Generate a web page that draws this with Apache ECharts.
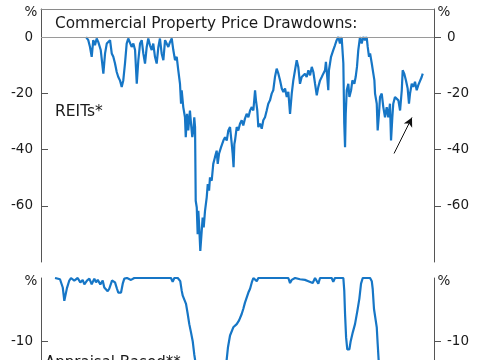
<!DOCTYPE html>
<html><head><meta charset="utf-8">
<script src="https://cdn.jsdelivr.net/npm/echarts@6/dist/echarts.min.js"></script>
<style>html,body{margin:0;padding:0;background:#fff;width:485px;height:360px;overflow:hidden}#c{width:485px;height:480px}</style>
</head><body><div id="c"></div>
<script>
// ---- data (x = decimal year, y = % drawdown) ----
const reitDates = [
2000.44,2000.61,2000.74,2000.87,2000.99,2001.12,2001.25,2001.37,2001.56,2001.76,2001.89,2002.02,2002.14,2002.27,2002.40,2002.52,2002.65,2002.78,2002.90,2003.03,
2003.16,2003.28,2003.41,2003.54,2003.66,2003.79,2003.92,2004.05,2004.18,2004.31,2004.43,2004.56,2004.69,2004.81,2004.94,2005.07,2005.19,2005.32,2005.45,2005.57,
2005.70,2005.83,2005.96,2006.08,2006.21,2006.34,2006.47,2006.60,2006.72,2006.85,2006.98,2007.04,2007.10,2007.23,2007.36,2007.48,2007.61,2007.69,2007.74,2007.86,
2007.99,2008.05,2008.15,2008.24,2008.37,2008.45,2008.55,2008.63,2008.70,2008.76,2008.81,2008.89,2008.96,2009.01,2009.08,2009.16,2009.27,2009.34,2009.42,2009.52,
2009.65,2009.73,2009.83,2009.90,2010.03,2010.15,2010.28,2010.41,2010.49,2010.59,2010.74,2010.92,2011.05,2011.18,2011.30,2011.43,2011.56,2011.63,2011.70,2011.76,
2011.81,2011.94,2012.06,2012.19,2012.32,2012.44,2012.57,2012.70,2012.83,2012.96,2013.09,2013.21,2013.34,2013.41,2013.51,2013.59,2013.72,2013.85,2013.97,2014.10,
2014.23,2014.35,2014.48,2014.61,2014.73,2014.86,2014.99,2015.12,2015.25,2015.38,2015.50,2015.63,2015.76,2015.88,2016.01,2016.14,2016.26,2016.39,2016.52,2016.64,
2016.77,2016.90,2017.02,2017.15,2017.28,2017.41,2017.54,2017.67,2017.79,2017.92,2018.05,2018.17,2018.30,2018.43,2018.55,2018.68,2018.75,2018.85,2018.93,2018.98,
2019.14,2019.31,2019.44,2019.57,2019.70,2019.82,2019.95,2020.08,2020.15,2020.21,2020.26,2020.34,2020.46,2020.54,2020.67,2020.77,2020.92,2021.02,2021.12,2021.22,
2021.35,2021.48,2021.60,2021.73,2021.86,2021.94,2022.04,2022.12,2022.25,2022.37,2022.45,2022.50,2022.63,2022.70,2022.80,2022.88,2023.01,2023.13,2023.26,2023.39,
2023.51,2023.64,2023.72,2023.82,2023.89,2024.02,2024.15,2024.28,2024.41,2024.54,2024.61,2024.73,2024.86,2024.99,2025.09,2025.17,2025.30,2025.42,2025.55,2025.68,
2025.80,2025.93,2026.06,2026.14];
const reitValues = [
0,-1.1,-3.5,-7.0,-1.1,-2.9,-0.5,-1.7,-4.6,-13.0,-5.8,-2.3,-2.3,-1.1,-5.8,-7.0,-9.4,-12.4,-14.2,-15.4,
-17.7,-15.4,-9.4,-2.3,-0.5,-1.1,-3.5,-2.3,-4.6,-16.6,-8.2,-2.3,-1.1,-5.8,-9.4,-3.5,-0.5,-2.9,-4.6,-2.3,
-7.0,-9.4,-3.5,-0.5,-5.8,-8.2,-1.1,-0.5,-3.5,-1.7,-0.5,0,-4.6,-8.2,-7.0,-11.8,-16.6,-23.7,-18.9,-24.9,
-28.5,-35.6,-27.3,-33.2,-26.1,-30.8,-35.6,-33.2,-28.5,-32.0,-58.2,-60.6,-70.1,-61.8,-67.7,-76.1,-68.9,-64.2,-67.7,-61.8,
-57.0,-52.3,-54.6,-49.9,-51.1,-45.1,-42.7,-40.4,-45.1,-41.5,-39.2,-36.8,-35.6,-36.8,-33.2,-32.0,-38.0,-41.5,-46.3,-38.0,
-36.8,-32.0,-33.2,-30.8,-29.6,-31.4,-29.0,-27.3,-28.5,-26.1,-24.9,-26.1,-18.9,-22.5,-26.1,-32.0,-30.8,-32.6,-29.6,-28.5,
-26.1,-23.7,-22.5,-20.1,-18.9,-14.2,-11.2,-13.0,-15.4,-18.3,-19.5,-18.3,-21.3,-19.5,-27.3,-20.1,-15.4,-11.8,-8.2,-10.6,
-16.6,-14.2,-14.8,-13.0,-14.2,-11.8,-13.6,-10.6,-12.4,-16.6,-20.7,-17.7,-15.4,-14.2,-13.0,-11.8,-8.8,-14.2,-18.9,-11.8,
-7.0,-4.6,-2.9,-1.1,0,-2.3,0,-9.4,-30.8,-39.2,-27.3,-18.9,-16.6,-21.3,-18.9,-15.4,-16.6,-14.2,-10.6,-4.6,
0,-2.3,0,-1.1,0,-3.5,-7.0,-5.8,-9.4,-13.0,-15.4,-20.1,-23.7,-33.2,-27.3,-21.3,-20.1,-24.9,-28.5,-24.9,
-28.5,-23.7,-36.8,-28.5,-23.7,-21.3,-21.9,-22.5,-26.1,-18.9,-11.8,-13.0,-15.4,-18.3,-23.7,-20.1,-16.6,-17.7,-15.9,-18.9,
-17.1,-17.7,-14.2,-13.0];

const apprDates = [
1998.07,1998.45,1998.66,1998.78,1998.86,1998.98,1999.16,1999.29,1999.54,1999.80,2000.00,2000.18,2000.31,2000.51,2000.69,2000.87,2001.07,2001.20,2001.33,2001.53,
2001.71,2001.83,2001.96,2002.09,2002.21,2002.34,2002.42,2002.55,2002.65,2002.80,2002.90,2003.11,2003.24,2003.36,2003.57,2003.87,2004.12,2006.92,2007.05,2007.18,
2007.44,2007.63,2007.74,2007.82,2007.94,2008.07,2008.20,2008.32,2008.45,2008.58,2008.70,2008.78,2009.14,2009.52,2009.90,2010.28,2010.66,2011.12,2011.27,2011.43,
2011.68,2011.94,2012.12,2012.32,2012.44,2012.57,2012.70,2012.83,2012.96,2013.09,2013.21,2013.47,2013.59,2015.88,2016.01,2016.14,2016.39,2016.77,2017.15,2017.41,
2017.54,2017.74,2017.92,2018.17,2018.30,2019.19,2019.31,2019.44,2020.08,2020.15,2020.21,2020.29,2020.38,2020.54,2020.64,2020.80,2020.97,2021.15,2021.30,2021.43,
2021.56,2022.12,2022.25,2022.32,2022.42,2022.52,2022.63,2022.70,2022.78,2022.90,2023.10,2023.80,2024.50,2025.20,2025.90];
const apprValues = [
0,-0.2,-1.5,-3.6,-3.4,-1.6,-0.4,0,-0.4,0,-0.7,-0.3,-1.0,-0.4,-0.1,-1.0,-0.1,-0.7,-0.3,-1.0,
-0.4,-1.5,-1.2,-2.1,-1.7,-1.5,-0.4,-0.1,-0.7,-1.7,-2.3,-2.3,-0.9,-0.1,0,-0.3,0,0,-0.6,0,
0,-0.5,-2.0,-2.8,-2.5,-4.1,-5.7,-7.3,-8.6,-10.0,-12.1,-13.2,-18,-23,-26,-25,-21,-14,-11,-9.1,
-7.8,-7.3,-6.7,-5.7,-4.9,-3.9,-3.1,-2.3,-1.7,-0.7,0,-0.5,0,0,-0.8,-0.3,0,-0.2,-0.3,-0.5,
-0.2,-0.8,0,-0.9,0,0,-0.6,0,0,-2.0,-5.7,-9.4,-11.3,-11.3,-10.0,-8.6,-7.3,-5.2,-3.3,-0.9,
0,0,-0.5,-1.7,-4.9,-5.2,-7.8,-10.4,-13.2,-16.5,-19,-21,-22,-21,-20];

const topTicks = [-60, -40, -20, 0];
const bottomTicks = [-10, -20];
const arrowFrom = [2023.95, -41.4];
const arrowTo = [2025.32, -28.6];

const BLUE = '#1676c6';
const FONT = 'DejaVu Sans';
const zip = (xs, ys) => xs.map((x, i) => [x, ys[i]]);

function yAx(grid, pos, min, max, ticks, inside, margin) {
  return {
    type: 'value', gridIndex: grid, position: pos, min: min, max: max, interval: 10,
    splitLine: {show: false},
    axisLine: {show: true, onZero: false, lineStyle: {color: '#555', width: 1}},
    axisTick: {show: true, inside: inside, length: 7, customValues: ticks, lineStyle: {color: '#555'}},
    axisLabel: {show: true, customValues: ticks, margin: margin, color: '#1a1a1a',
      fontFamily: FONT, fontSize: 13.5}
  };
}

const chart = echarts.init(document.getElementById('c'), null, {renderer: 'canvas'});
chart.setOption({
  animation: false,
  backgroundColor: '#fff',
  grid: [
    {left: 41, top: 9, width: 393, height: 253},
    {left: 41, top: 278, width: 393, height: 126.4}
  ],
  xAxis: [
    {type: 'value', gridIndex: 0, min: 1997, max: 2027, position: 'top',
     axisLine: {show: true, onZero: false, lineStyle: {color: '#8a8a8a', width: 1}},
     axisTick: {show: false}, axisLabel: {show: false}, splitLine: {show: false}},
    {type: 'value', gridIndex: 1, min: 1997, max: 2027, show: false}
  ],
  yAxis: [
    yAx(0, 'left', -80, 10, topTicks, true, 8),
    yAx(0, 'right', -80, 10, topTicks, false, 13),
    yAx(1, 'left', -20, 0, bottomTicks, true, 8),
    yAx(1, 'right', -20, 0, bottomTicks, false, 13)
  ],
  series: [
    {type: 'line', xAxisIndex: 0, yAxisIndex: 0, data: zip(reitDates, reitValues),
     showSymbol: false, lineStyle: {color: BLUE, width: 2.2}, z: 3,
     markLine: {silent: true, symbol: ['none', 'none'], label: {show: false}, animation: false,
       data: [
         {yAxis: 0, lineStyle: {color: '#9a9a9a', width: 1, type: 'solid'}},
         [{coord: arrowFrom, symbol: 'none', lineStyle: {color: '#111', width: 1, type: 'solid'}},
          {coord: arrowTo, symbol: 'arrow', symbolSize: [7, 9]}]
       ]}},
    {type: 'line', xAxisIndex: 1, yAxisIndex: 2, data: zip(apprDates, apprValues),
     showSymbol: false, lineStyle: {color: BLUE, width: 2.2}}
  ],
  graphic: [
    {type: 'text', x: 55, y: 24.3, style: {text: 'Commercial Property Price Drawdowns:', fontFamily: FONT, fontSize: 15.3, fill: '#1a1a1a', align: 'left', verticalAlign: 'middle'}},
    {type: 'text', x: 55, y: 111.5, style: {text: 'REITs*', fontFamily: FONT, fontSize: 15.5, fill: '#1a1a1a', align: 'left', verticalAlign: 'middle'}},
    {type: 'text', x: 45, y: 363, style: {text: 'Appraisal Based**', fontFamily: FONT, fontSize: 15, fill: '#1a1a1a', align: 'left', verticalAlign: 'middle'}},
    {type: 'text', x: 31, y: 12.5, style: {text: '%', fontFamily: FONT, fontSize: 13.5, fill: '#1a1a1a', align: 'center', verticalAlign: 'middle'}},
    {type: 'text', x: 444, y: 12.5, style: {text: '%', fontFamily: FONT, fontSize: 13.5, fill: '#1a1a1a', align: 'center', verticalAlign: 'middle'}},
    {type: 'text', x: 31, y: 281, style: {text: '%', fontFamily: FONT, fontSize: 13.5, fill: '#1a1a1a', align: 'center', verticalAlign: 'middle'}},
    {type: 'text', x: 444, y: 281, style: {text: '%', fontFamily: FONT, fontSize: 13.5, fill: '#1a1a1a', align: 'center', verticalAlign: 'middle'}}
  ]
});
</script>
</body></html>
